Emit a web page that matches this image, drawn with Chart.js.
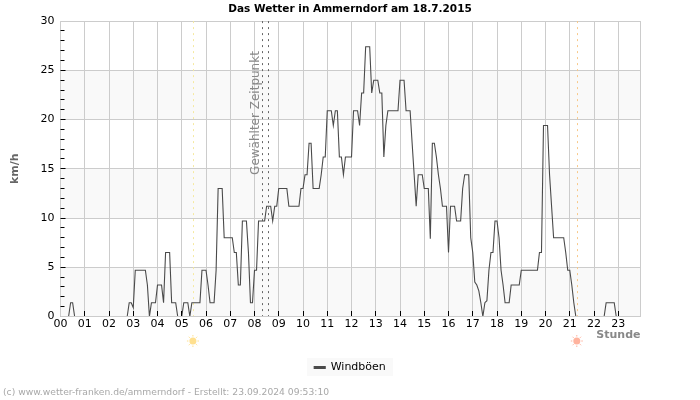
<!DOCTYPE html>
<html><head><meta charset="utf-8">
<style>html,body{margin:0;padding:0;background:#fff}canvas{display:block}</style>
<script src="https://cdn.jsdelivr.net/npm/chart.js@4"></script>
</head><body><canvas id="c" width="700" height="400"></canvas>
<script>
const chartTitle = "Das Wetter in Ammerndorf am 18.7.2015";
const seriesName = "Windböen";
const footerText = "(c) www.wetter-franken.de/ammerndorf - Erstellt: 23.09.2024 09:53:10";
const hourLabels = ["00","01","02","03","04","05","06","07","08","09","10","11","12","13","14","15","16","17","18","19","20","21","22","23"];
const sunrise = 5.46, sunset = 21.29;
const selectedFrom = 8.29, selectedTo = 8.54;
// gust speed (km/h) every 5 minutes
const gusts0 = [0,0,0,0,0,1.4,1.4,0,0,0,0,0,0,0,0,0,0,0,0,0,0,0,0,0,0,0,0,0,0,0,0,0,0,0,1.4,1.4,0.9,4.7,4.7,4.7,4.7,4.7,4.7,3.2,0,1.4,1.4,1.4];
const gusts4 = [3.2,3.2,3.2,1.4,6.5,6.5,6.5,1.4,1.4,1.4,0,0,0,1.4,1.4,1.4,0,1.4,1.4,1.4,1.4,1.4,4.7,4.7,4.7,3.2,1.4,1.4,1.4,4.7,13,13,13,8,8,8,8,8,6.5,6.5,3.2,3.2,9.7,9.7,9.7,6.5,1.4,1.4];
const gusts8 = [4.7,4.7,9.7,9.7,9.7,9.7,11.2,11.2,11.2,9.7,11.2,11.2,13,13,13,13,13,11.2,11.2,11.2,11.2,11.2,11.2,13,13,14.4,14.4,17.6,17.6,13,13,13,13,14.4,16.2,16.2,20.9,20.9,20.9,19.4,20.9,20.9,16.2,16.2,14.4,16.2,16.2,16.2];
const gusts12 = [16.2,20.9,20.9,20.9,19.4,22.7,22.7,27.4,27.4,27.4,22.7,24,24,24,22.7,22.7,16.2,19.4,20.9,20.9,20.9,20.9,20.9,20.9,24,24,24,20.9,20.9,20.9,17.6,14.4,11.2,14.4,14.4,14.4,13,13,13,7.9,17.6,17.6,16.2,14.4,13,11.2,11.2,11.2];
const gusts16 = [6.5,11.2,11.2,11.2,9.7,9.7,9.7,13,14.4,14.4,14.4,8,6.5,3.5,3.2,2.6,1.4,0,1.4,1.6,4.7,6.5,6.5,9.7,9.7,8,4.7,3.2,1.4,1.4,1.4,3.2,3.2,3.2,3.2,3.2,4.7,4.7,4.7,4.7,4.7,4.7,4.7,4.7,4.7,6.5,6.5,19.4];
const gusts20 = [19.4,19.4,14.4,11.2,8,8,8,8,8,8,6.5,4.7,4.7,3.2,1.4,0,0,0,0,0,0,0,0,0,0,0,0,0,0,0,1.4,1.4,1.4,1.4,1.4,0,0,0,0,0,0,0,0,0,0,0,0,0];
const gusts = [].concat(gusts0,gusts4,gusts8,gusts12,gusts16,gusts20);
const points = gusts.map((v,i)=>({x:i/12,y:v}));

function sun(ctx,x,y,color){
  ctx.save();ctx.strokeStyle=color;ctx.fillStyle=color;ctx.lineWidth=1;
  ctx.beginPath();ctx.arc(x,y,3.5,0,Math.PI*2);ctx.fill();
  for(let i=0;i<8;i++){const a=i*Math.PI/4;
    ctx.beginPath();ctx.moveTo(x+Math.cos(a)*4.5,y+Math.sin(a)*4.5);
    ctx.lineTo(x+Math.cos(a)*6,y+Math.sin(a)*6);ctx.stroke();}
  ctx.restore();
}
const bands = {
  id:'bands',
  beforeDraw(ch){
    const {ctx,chartArea:a,scales:{y}}=ch;
    ctx.save();ctx.fillStyle='#f9f9f9';
    [[0,5],[10,15],[20,25]].forEach(([l,h])=>{
      const t=y.getPixelForValue(h),b=y.getPixelForValue(l);
      ctx.fillRect(a.left,t,a.right-a.left,b-t);
    });
    ctx.fillRect(307,358,86,18);
    ctx.restore();
  },
  beforeDatasetsDraw(ch){
    const {ctx,chartArea:a,scales:{x}}=ch;
    ctx.save();ctx.lineWidth=1;
    const v=(val,col,dash)=>{const p=Math.round(x.getPixelForValue(val))+0.5;
      ctx.strokeStyle=col;ctx.setLineDash(dash);ctx.beginPath();ctx.moveTo(p,a.top);ctx.lineTo(p,a.bottom);ctx.stroke();};
    v(sunrise,'#f5e9a0',[2,4]);
    v(sunset,'#f8c98a',[2,4]);
    v(selectedFrom,'#666',[2,4]);
    v(selectedTo,'#666',[2,4]);
    ctx.setLineDash([]);
    ctx.translate(x.getPixelForValue(8)+1,113);ctx.rotate(-Math.PI/2);
    ctx.fillStyle='#888';ctx.font='12px "DejaVu Sans"';ctx.textAlign='center';ctx.textBaseline='middle';
    ctx.fillText('Gewählter Zeitpunkt',0,0);
    ctx.restore();
  },
  afterDatasetsDraw(ch){
    const {ctx,chartArea:a,scales:{x,y}}=ch;
    ctx.save();ctx.lineWidth=1;
    ctx.strokeStyle='#ccc';
    ctx.beginPath();ctx.moveTo(a.left,a.bottom);ctx.lineTo(a.right,a.bottom);
    ctx.moveTo(a.right,a.top);ctx.lineTo(a.right,a.bottom);ctx.stroke();
    ctx.strokeStyle='#000';ctx.beginPath();
    hourLabels.forEach((l,i)=>{if(i===0)return;const p=Math.round(x.getPixelForValue(i)-.5)+.5;
      ctx.moveTo(p,a.bottom-.5);ctx.lineTo(p,a.bottom-5.5);});
    for(let i=1;i<30;i++){const p=Math.round(y.getPixelForValue(i)-.5)+.5;
      ctx.moveTo(a.left,p);ctx.lineTo(a.left+(i%5===0?5:4),p);}
    ctx.stroke();
    sun(ctx,x.getPixelForValue(sunrise),341,'#ffe08f');
    sun(ctx,x.getPixelForValue(sunset),341,'#ffb39e');
    ctx.fillStyle='#a8a8a8';ctx.font='9.2px "DejaVu Sans"';ctx.textAlign='left';ctx.textBaseline='middle';
    ctx.fillText(footerText,3,393);
    ctx.restore();
  }
};
new Chart(document.getElementById('c'),{
  type:'line',
  data:{datasets:[{label:seriesName,data:points,borderColor:'#4a4a4a',backgroundColor:'#4a4a4a',borderWidth:1.1,pointRadius:0,tension:0,fill:false}]},
  plugins:[bands],
  options:{
    responsive:false,animation:false,devicePixelRatio:1,
    layout:{padding:{left:0,right:0,top:0,bottom:17}},
    plugins:{
      tooltip:{enabled:false},
      title:{display:true,text:chartTitle,color:'#000',font:{family:'"DejaVu Sans"',size:10.5,weight:'bold'},padding:{top:3,bottom:5.5},fullSize:true},
      legend:{display:true,position:'bottom',labels:{color:'#000',font:{family:'"DejaVu Sans"',size:11},boxWidth:11,boxHeight:2,padding:3}}
    },
    scales:{
      x:{type:'linear',min:0,max:287/12,
        afterFit(s){s.height=42.5;},
        grid:{color:'#ccc',drawTicks:false},border:{display:false},
        ticks:{stepSize:1,includeBounds:false,autoSkip:false,maxRotation:0,padding:1,color:'#000',font:{family:'"DejaVu Sans"',size:11},callback:v=>hourLabels[v]},
        title:{display:true,text:'Stunde',align:'end',color:'#888',font:{family:'"DejaVu Sans"',size:11,weight:'bold'},padding:{top:0,bottom:17}}},
      y:{min:0,max:30,
        afterFit(s){s.width=60.5;},
        grid:{color:'#ccc',drawTicks:false},border:{display:false},
        ticks:{stepSize:5,padding:6,color:'#000',font:{family:'"DejaVu Sans"',size:11}},
        title:{display:true,text:'km/h',color:'#666',font:{family:'"DejaVu Sans"',size:11,weight:'bold'},padding:{top:9,bottom:0}}},
      pad:{position:'right',afterFit(s){s.width=59.5;},grid:{display:false},border:{display:false},ticks:{display:false}}
    }
  }
});
</script></body></html>
